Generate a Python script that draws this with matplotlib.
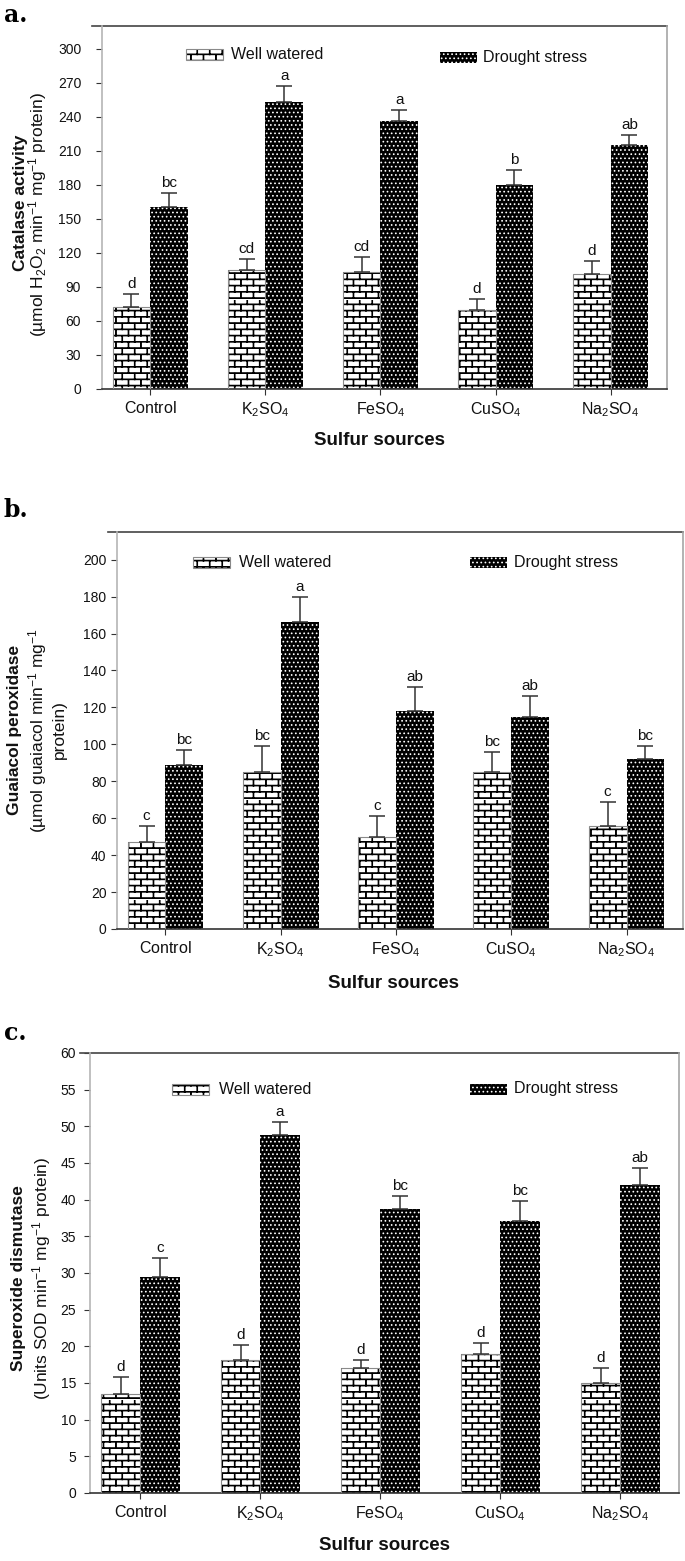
import numpy as np
import matplotlib
matplotlib.use('Agg')
import matplotlib.pyplot as plt
from matplotlib import hatch as mhatch
from matplotlib.path import Path
from matplotlib.patches import Rectangle
from matplotlib.lines import Line2D

# ---------------- data ----------------
categories = ['Control', 'K$_2$SO$_4$', 'FeSO$_4$', 'CuSO$_4$', 'Na$_2$SO$_4$']
series_names = ['Well watered', 'Drought stress']

cat_ww = [72, 105, 103, 70, 101]
cat_ww_err = [12, 10, 13, 9, 12]
cat_ds = [160, 253, 236, 180, 215]
cat_ds_err = [13, 14, 10, 13, 9]
cat_ww_let = ['d', 'cd', 'cd', 'd', 'd']
cat_ds_let = ['bc', 'a', 'a', 'b', 'ab']

gpx_ww = [47, 85, 50, 85, 56]
gpx_ww_err = [9, 14, 11, 11, 13]
gpx_ds = [89, 166, 118, 115, 92]
gpx_ds_err = [8, 14, 13, 11, 7]
gpx_ww_let = ['c', 'bc', 'c', 'bc', 'c']
gpx_ds_let = ['bc', 'a', 'ab', 'ab', 'bc']

sod_ww = [13.5, 18.2, 17.0, 19.0, 15.0]
sod_ww_err = [2.3, 2.0, 1.1, 1.4, 2.0]
sod_ds = [29.5, 48.8, 38.7, 37.1, 42.0]
sod_ds_err = [2.5, 1.8, 1.8, 2.7, 2.3]
sod_ww_let = ['d', 'd', 'd', 'd', 'd']
sod_ds_let = ['c', 'a', 'bc', 'bc', 'ab']

cat_yticks = list(range(0, 301, 30))
gpx_yticks = list(range(0, 201, 20))
sod_yticks = list(range(0, 61, 5))

# ---------------- custom brick hatch (uses the '*' symbol) ----------------
class BrickHatch(mhatch.HatchPatternBase):
    def __init__(self, hatch, density):
        n = hatch.count('*')
        self.rows = 16 * n
        self.cols = 8
        self.dbl = (0.0, 0.007)
        self.num_vertices = self.rows * (2 + 2 * self.cols) * 2 if n else 0

    def set_vertices_and_codes(self, vertices, codes):
        h = 1.0 / self.rows
        k = 0
        for d in self.dbl:
            for i in range(self.rows):
                y0 = i * h + 0.25 * h + d
                vertices[k] = (0.0, y0)
                vertices[k + 1] = (1.0, y0)
                codes[k] = Path.MOVETO
                codes[k + 1] = Path.LINETO
                k += 2
                off = 0.5 / self.cols if i % 2 else 0.0
                for j in range(self.cols):
                    x = ((j + 0.25) / self.cols + off + d) % 1.0
                    vertices[k] = (x, i * h + 0.25 * h)
                    vertices[k + 1] = (x, i * h + 1.25 * h)
                    codes[k] = Path.MOVETO
                    codes[k + 1] = Path.LINETO
                    k += 2

mhatch._hatch_types = [t for t in mhatch._hatch_types if t is not mhatch.Stars] + [BrickHatch]

plt.rcParams['font.family'] = ['Liberation Sans', 'DejaVu Sans']
plt.rcParams['mathtext.default'] = 'regular'
plt.rcParams['hatch.linewidth'] = 0.7

W, H = 685, 1561
fig = plt.figure(figsize=(W / 100, H / 100), dpi=100)

def rect(l, t, r, b):
    return [l / W, 1 - b / H, (r - l) / W, (b - t) / H]

BW = 0.328
WW_HATCH = '*'
DS_HATCH = '....'
TXT = '#111111'

panels = [
    dict(box=(102, 26, 667, 389), ww=cat_ww, wwe=cat_ww_err, ds=cat_ds, dse=cat_ds_err,
         wwl=cat_ww_let, dsl=cat_ds_let, ytop=320, yticks=cat_yticks, pad=11, ext=10),
    dict(box=(117, 532, 683, 929), ww=gpx_ww, wwe=gpx_ww_err, ds=gpx_ds, dse=gpx_ds_err,
         wwl=gpx_ww_let, dsl=gpx_ds_let, ytop=215, yticks=gpx_yticks, pad=3.5, ext=9),
    dict(box=(90, 1053, 679, 1493), ww=sod_ww, wwe=sod_ww_err, ds=sod_ds, dse=sod_ds_err,
         wwl=sod_ww_let, dsl=sod_ds_let, ytop=60, yticks=sod_yticks, pad=6, ext=10),
]

for p in panels:
    l, t, r, b = p['box']
    ax = fig.add_axes(rect(l, t, r, b))
    x = np.arange(len(categories))
    xw = x - BW / 2
    xd = x + BW / 2
    ax.bar(xw, p['ww'], BW, color='white', edgecolor='black', linewidth=0,
           hatch=WW_HATCH, zorder=2)
    ax.bar(xw, p['ww'], BW, fill=False, edgecolor='#8a8a8a', linewidth=0.8, zorder=3)
    ax.bar(xd, p['ds'], BW, color='black', edgecolor='white', linewidth=0,
           hatch=DS_HATCH, zorder=2)
    for xs, vals, errs, lets in ((xw, p['ww'], p['wwe'], p['wwl']),
                                 (xd, p['ds'], p['dse'], p['dsl'])):
        ax.errorbar(xs, vals, yerr=[np.zeros(len(vals)), errs], fmt='none',
                    ecolor='#333333', elinewidth=1.1, capsize=5.5, capthick=1.1, zorder=4)
        for xi, v, e, s in zip(xs, vals, errs, lets):
            ax.annotate(s, (xi, v + e), xytext=(0, 4.3), textcoords='offset points',
                        ha='center', va='baseline', fontsize=11, color=TXT)
    ax.set_xlim(-0.42, 4.49)
    ax.set_ylim(0, p['ytop'])
    ax.set_yticks(p['yticks'])
    ax.set_yticklabels([str(v) for v in p['yticks']])
    ax.set_xticks(x)
    ax.set_xticklabels(['$' + c + '$' if '$' not in c else c for c in categories])
    ax.tick_params(axis='y', direction='out', length=4, width=0.8, color='#333333',
                   labelsize=10, pad=p['pad'], labelcolor=TXT)
    ax.tick_params(axis='x', direction='out', length=4, width=0.8, color='#333333',
                   labelsize=11.5, pad=4, labelcolor=TXT)
    ax.spines['top'].set_visible(False)
    ax.spines['left'].set_color('#b5b5b5')
    ax.spines['left'].set_linewidth(1.2)
    ax.spines['right'].set_color('#a5a5a5')
    ax.spines['right'].set_linewidth(1.2)
    ax.spines['bottom'].set_color('#333333')
    ax.spines['bottom'].set_linewidth(1.2)
    axw = r - l
    ax.add_line(Line2D([-p['ext'] / axw, 1.0], [1.0, 1.0], transform=ax.transAxes,
                       color='#444444', linewidth=1.2, clip_on=False))

# ---------------- overlay for free texts and legends ----------------
ov = fig.add_axes([0, 0, 1, 1], zorder=10)
ov.set_xlim(0, W)
ov.set_ylim(H, 0)
ov.axis('off')
ov.patch.set_alpha(0)

serif = ['DejaVu Serif']
ov.text(4, 22, 'a.', fontsize=17, fontweight='bold', family=serif, va='baseline')
ov.text(4, 517, 'b.', fontsize=17, fontweight='bold', family=serif, va='baseline')
ov.text(4, 1040, 'c.', fontsize=17, fontweight='bold', family=serif, va='baseline')

ylab = dict(rotation=90, ha='center', va='center', fontsize=12.5, color=TXT)
ov.text(21, 203, 'Catalase activity', fontweight='bold', **ylab)
ov.text(38, 215, '(µmol H$_2$O$_2$ min$^{-1}$ mg$^{-1}$ protein)', **ylab)
ov.text(15, 730, 'Guaiacol peroxidase', fontweight='bold', **ylab)
ov.text(38, 730, '(µmol guaiacol min$^{-1}$ mg$^{-1}$', **ylab)
ov.text(59, 730, 'protein)', **ylab)
ov.text(19, 1278, 'Superoxide dismutase', fontweight='bold', **ylab)
ov.text(42, 1278, '(Units SOD min$^{-1}$ mg$^{-1}$ protein)', **ylab)

xl = dict(ha='center', va='center', fontsize=13.5, fontweight='bold', color=TXT)
ov.text(380, 440, 'Sulfur sources', **xl)
ov.text(394, 983, 'Sulfur sources', **xl)
ov.text(385, 1546, 'Sulfur sources', **xl)

legends = [
    ((186, 54), (231, 54), (440, 57), (483, 57)),
    ((193, 562), (239, 562), (470, 562), (514, 562)),
    ((172, 1089), (219, 1089), (470, 1089), (514, 1089)),
]
for (wp, wt, dp, dt) in legends:
    ov.add_patch(Rectangle((wp[0], wp[1] - 5.5), 37, 11, facecolor='white',
                           edgecolor='black', linewidth=0, hatch=WW_HATCH))
    ov.add_patch(Rectangle((wp[0], wp[1] - 5.5), 37, 11, fill=False,
                           edgecolor='#8a8a8a', linewidth=0.8))
    ov.add_patch(Rectangle((dp[0], dp[1] - 5.5), 37, 11, facecolor='black',
                           edgecolor='white', linewidth=0, hatch=DS_HATCH))
    ov.text(wt[0], wt[1], series_names[0], ha='left', va='center', fontsize=11.5, color=TXT)
    ov.text(dt[0], dt[1], series_names[1], ha='left', va='center', fontsize=11.5, color=TXT)

fig.savefig('out.png', dpi=100)
